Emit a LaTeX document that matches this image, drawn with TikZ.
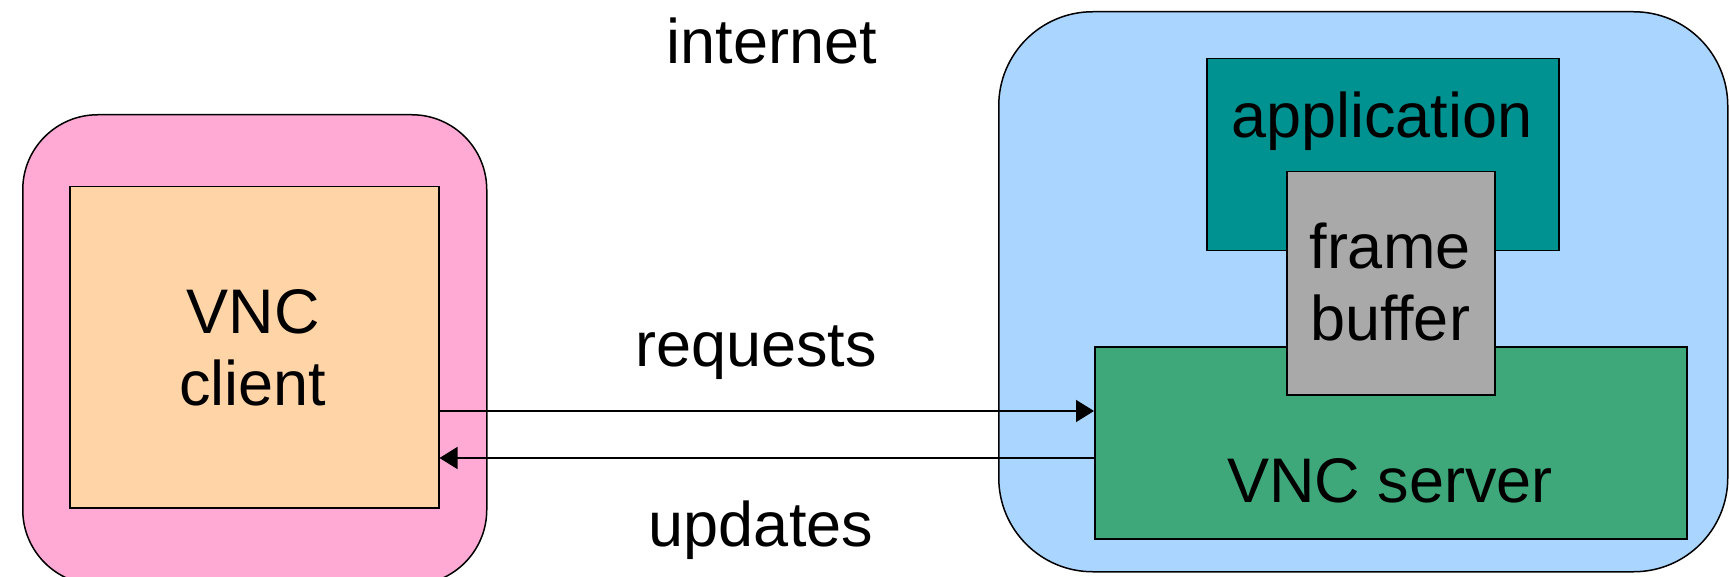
\documentclass[tikz,border=0pt]{standalone}
\usepackage{fontspec}
\setmainfont{Liberation Sans}
\usetikzlibrary{arrows.meta}
\definecolor{cpink}{HTML}{FFAAD5}
\definecolor{cpeach}{HTML}{FFD5A8}
\definecolor{cblue}{HTML}{AAD5FF}
\definecolor{cteal}{HTML}{009191}
\definecolor{cgray}{HTML}{A9A9A9}
\definecolor{cgreen}{HTML}{3EA87B}
\tikzset{
  box/.style={draw=black, line width=1.5pt, anchor=north west, inner sep=0pt},
  lbl/.style={font=\fontsize{63}{72}\selectfont, anchor=base, align=center, inner sep=0pt},
  arr/.style={line width=1.5pt, -{Triangle[length=18pt,width=22pt]}},
}
\begin{document}
\begin{tikzpicture}[x=1pt,y=-1pt]
\useasboundingbox (0,0) rectangle (1729,577);
\fill[white] (0,0) rectangle (1729,577);
% outer rounded boxes
\node[box, fill=cblue, rounded corners=94pt, minimum width=729pt, minimum height=560pt] (host) at (998,11) {};
\node[box, fill=cpink, rounded corners=75pt, minimum width=464pt, minimum height=470pt] (viewer) at (22,114) {};
% inner boxes
\node[box, fill=cpeach, minimum width=369pt, minimum height=321pt] (client) at (69,186) {};
\node[box, fill=cteal, minimum width=352pt, minimum height=192pt] (app) at (1206,58) {};
\node[box, fill=cgreen, minimum width=592pt, minimum height=192pt] (server) at (1094,346) {};
\node[box, fill=cgray, minimum width=208pt, minimum height=223pt] (fb) at (1286,171) {};
% labels
\node[lbl] (tclient) at (253,405) {VNC\\client};
\node[lbl] (tapp) at (1382,138) {application};
\node[lbl] (tfb) at (1390,340) {frame\\buffer};
\node[lbl] (tserver) at (1390,502) {VNC server};
\node[lbl] (tinternet) at (772,64) {internet};
\node[lbl] (treq) at (756,366) {requests};
\node[lbl] (tupd) at (761,546) {updates};
% connectors
\draw[arr] (client.east |- 0,411) -- (server.west |- 0,411);
\draw[arr] (server.west |- 0,458) -- (client.east |- 0,458);
\end{tikzpicture}
\end{document}
